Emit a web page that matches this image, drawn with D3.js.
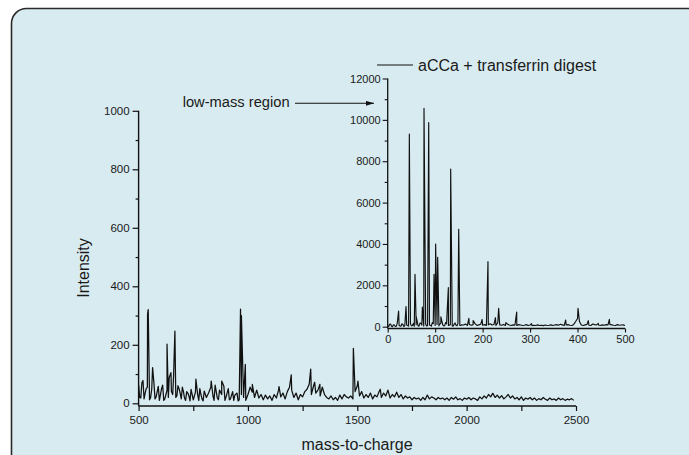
<!DOCTYPE html>
<html>
<head>
<meta charset="utf-8">
<script src="https://cdn.jsdelivr.net/npm/d3@7"></script>
<style>
  html, body { margin: 0; padding: 0; background: #ffffff; }
  svg { display: block; font-family: "Liberation Sans", Arial, Helvetica, sans-serif; }
</style>
</head>
<body>
<svg id="chart" width="689" height="455"></svg>
<script>
// ---------------- DATA ----------------
// Main spectrum: baseline sampled every 10 m/z from 500 to 2490
const mainStartMz = 500;
const mainStepMz = 10;
const mainBaseline = [
  62, 18, 78, 35, 55, 12, 48, 70, 22, 58,
  30, 62, 15, 45, 88, 40, 95, 20, 60, 35,
  55, 18, 40, 25, 48, 12, 38, 30, 50, 15,
  42, 20, 35, 55, 25, 62, 18, 45, 30, 58,
  22, 50, 15, 40, 28, 35, 12, 30, 20, 10,
  30, 55, 38, 20, 45, 18, 30, 12, 28, 15,
  25, 10, 30, 18, 45, 22, 35, 15, 40, 55,
  45, 20, 35, 12, 30, 22, 40, 48, 65, 30,
  60, 35, 45, 25, 55, 30, 20, 15, 25, 12,
  20, 10, 28, 15, 30, 22, 18, 25, 15, 40,
  60, 25, 40, 18, 30, 20, 35, 15, 28, 22,
  40, 20, 35, 25, 45, 18, 30, 22, 38, 20,
  30, 15, 25, 18, 22, 12, 20, 15, 18, 10,
  20, 12, 28, 15, 22, 18, 12, 20, 15, 18,
  12, 18, 10, 20, 14, 22, 12, 16, 10, 18,
  14, 20, 12, 18, 15, 10, 22, 15, 25, 18,
  30, 22, 34, 20, 28, 18, 26, 15, 22, 30,
  18, 25, 15, 20, 12, 22, 10, 18, 14, 20,
  12, 18, 10, 16, 12, 20, 14, 10, 18, 12,
  15, 10, 18, 12, 16, 10, 14, 12, 16, 10
];
// Main spectrum peaks [m/z, intensity]
const mainPeaks = [
  [505, 20], [515, 70], [525, 15], [535, 50], [541, 305], [544, 320], [555, 20],
  [564, 122], [575, 15], [585, 40], [595, 10], [605, 50], [615, 10], [625, 30],
  [630, 202], [636, 20], [648, 105], [656, 30], [666, 247], [675, 25], [685, 50],
  [695, 15], [705, 40], [715, 10], [725, 35], [735, 8], [745, 30],
  [762, 83], [775, 10], [785, 30], [795, 8], [832, 76], [845, 10], [865, 12],
  [880, 76], [895, 10], [915, 12], [935, 10], [955, 8],
  [966, 322], [970, 300], [988, 133], [1020, 65], [1142, 57], [1198, 97],
  [1287, 117], [1305, 72], [1329, 65], [1482, 188], [1503, 76], [1605, 48], [2119, 34]
];

// Inset (low-mass region): baseline sampled every 4 m/z from 0 to 500
const insetStartMz = 0;
const insetStepMz = 4;
const insetBaseline = [
  40, 120, 20, 90, 10, 150, 60, 30, 110, 50,
  80, 30, 140, 60, 20, 100, 40, 170, 70, 30,
  120, 50, 90, 30, 150, 60, 110, 40, 180, 90,
  50, 130, 60, 100, 40, 120, 70, 150, 60, 90,
  80, 130, 60, 110, 70, 100, 150, 60, 90, 120,
  70, 100, 60, 90, 140, 80, 110, 60, 200, 90,
  70, 110, 60, 130, 80, 60, 90, 70, 60, 100,
  80, 60, 70, 100, 60, 80, 50, 70, 60, 90,
  60, 70, 50, 80, 60, 70, 90, 60, 80, 100,
  70, 120, 90, 60, 80, 100, 70, 60, 110, 250,
  400, 250, 80, 60, 90, 110, 70, 60, 130, 100,
  90, 80, 60, 90, 70, 100, 80, 110, 90, 70,
  60, 100, 70, 80, 90, 60
];
const insetPeaks = [
  [2, 10], [6, 130], [10, 0], [14, 80], [18, 20], [23, 760], [26, 40], [30, 140],
  [34, 10], [38.6, 970], [42, 60], [45.6, 9318], [50, 40], [54, 160],
  [57.5, 2533], [60, 500], [66, 30], [70, 180], [73, 950], [76.5, 10560],
  [82, 40], [86.4, 9865], [90, 60], [94, 200], [97.6, 2533], [101, 4000],
  [105.3, 3355], [108, 60], [112, 480], [118, 40], [122, 200], [127.8, 1886],
  [132.7, 7625], [138, 30], [142, 180], [146, 50], [149.6, 4710], [154, 60],
  [171, 405], [180, 300], [199, 350], [211.3, 3143], [227, 435], [233.8, 890], [249, 200],
  [271.8, 710], [303, 150], [375, 325], [401, 890], [422.7, 290], [443.8, 160],
  [467, 358]
];

// Tick labels / values
const mainXTicks = [500, 1000, 1500, 2000, 2500];
const mainXMinor = [750, 1250, 1750, 2250];
const mainYTicks = [0, 200, 400, 600, 800, 1000];
const mainYMinor = [100, 300, 500, 700, 900];
const insetXTicks = [0, 100, 200, 300, 400, 500];
const insetYTicks = [0, 2000, 4000, 6000, 8000, 10000, 12000];
const insetYMinor = [1000, 3000, 5000, 7000, 9000, 11000];

const xTitle = "mass-to-charge";
const yTitle = "Intensity";
const legendLabel = "aCCa + transferrin digest";
const annotationLabel = "low-mass region";

// ---------------- BUILD SERIES ----------------
function buildSeries(start, step, base, peaks) {
  const pts = base.map((v, i) => [start + i * step, v]);
  peaks.forEach(p => pts.push([p[0], p[1]]));
  pts.sort((a, b) => a[0] - b[0]);
  return pts;
}
const mainData = buildSeries(mainStartMz, mainStepMz, mainBaseline, mainPeaks);
const insetData = buildSeries(insetStartMz, insetStepMz, insetBaseline, insetPeaks);

// ---------------- DRAW ----------------
const svg = d3.select("#chart");
const ink = "#111";
const labelColor = "#1a1a1a";
const fontStack = '"Liberation Sans", Arial, sans-serif';

// Panel
svg.append("rect")
  .attr("x", 11.5).attr("y", 8.5)
  .attr("width", 720).attr("height", 480)
  .attr("rx", 15).attr("ry", 15)
  .attr("fill", "#d8ebf0")
  .attr("stroke", "#2a2a2a")
  .attr("stroke-width", 1.6);

// ---- Main chart ----
const x = d3.scaleLinear().domain([500, 2500]).range([138.6, 576]);
const y = d3.scaleLinear().domain([0, 1000]).range([403.3, 110.8]);
const mainAxisY = 406;

const gMain = svg.append("g");

const yAxis = gMain.append("g").attr("transform", "translate(138.6,0)")
  .call(d3.axisLeft(y).tickValues(mainYTicks).tickSize(6).tickPadding(3).tickFormat(d3.format("d")));
const yAxisMinor = gMain.append("g").attr("transform", "translate(138.6,0)")
  .call(d3.axisLeft(y).tickValues(mainYMinor).tickSize(3).tickFormat(""));
const xAxis = gMain.append("g").attr("transform", `translate(0,${mainAxisY})`)
  .call(d3.axisBottom(x).tickValues(mainXTicks).tickSize(5).tickPadding(5).tickFormat(d3.format("d")));
const xAxisMinor = gMain.append("g").attr("transform", `translate(0,${mainAxisY})`)
  .call(d3.axisBottom(x).tickValues(mainXMinor).tickSize(5).tickFormat(""));

[yAxis, yAxisMinor, xAxis, xAxisMinor].forEach(a => {
  a.select(".domain").remove();
  a.selectAll("line").attr("stroke", ink).attr("stroke-width", 1.2);
  a.selectAll("text").attr("fill", labelColor).style("font-size", "11.5px")
    .style("font-family", fontStack);
});
gMain.append("line").attr("x1", x(500)).attr("x2", x(500)).attr("y1", y(1000)).attr("y2", mainAxisY)
  .attr("stroke", ink).attr("stroke-width", 1.4);
gMain.append("line").attr("x1", x(500)).attr("x2", x(2500)).attr("y1", mainAxisY).attr("y2", mainAxisY)
  .attr("stroke", ink).attr("stroke-width", 1.4);

gMain.append("path").datum(mainData)
  .attr("fill", "none").attr("stroke", ink).attr("stroke-width", 1.25)
  .attr("stroke-linejoin", "round")
  .attr("d", d3.line().x(d => x(d[0])).y(d => y(d[1])));

// Titles
svg.append("text").attr("transform", "translate(83.5,268) rotate(-90)")
  .attr("text-anchor", "middle").attr("dy", "0.35em")
  .attr("fill", labelColor).style("font-size", "16px").text(yTitle);
svg.append("text").attr("x", 357).attr("y", 450)
  .attr("text-anchor", "middle")
  .attr("fill", labelColor).style("font-size", "16px").text(xTitle);

// ---- Inset ----
const xi = d3.scaleLinear().domain([0, 500]).range([387.7, 625]);
const yi = d3.scaleLinear().domain([0, 12000]).range([326.7, 78.5]);
const insetAxisY = 328.5;
const gIn = svg.append("g");

const yiAxis = gIn.append("g").attr("transform", "translate(387.7,0)")
  .call(d3.axisLeft(yi).tickValues(insetYTicks).tickSize(5).tickPadding(2).tickFormat(d3.format("d")));
const yiAxisMinor = gIn.append("g").attr("transform", "translate(387.7,0)")
  .call(d3.axisLeft(yi).tickValues(insetYMinor).tickSize(3).tickFormat(""));
const xiAxis = gIn.append("g").attr("transform", `translate(0,${insetAxisY})`)
  .call(d3.axisBottom(xi).tickValues(insetXTicks).tickSize(4).tickPadding(3).tickFormat(d3.format("d")));
[yiAxis, yiAxisMinor, xiAxis].forEach(a => {
  a.select(".domain").remove();
  a.selectAll("line").attr("stroke", ink).attr("stroke-width", 1.1);
  a.selectAll("text").attr("fill", labelColor).style("font-size", "11px")
    .style("font-family", fontStack);
});
gIn.append("line").attr("x1", xi(0)).attr("x2", xi(0)).attr("y1", yi(12000)).attr("y2", insetAxisY)
  .attr("stroke", ink).attr("stroke-width", 1.3);
gIn.append("line").attr("x1", xi(0)).attr("x2", xi(500)).attr("y1", insetAxisY).attr("y2", insetAxisY)
  .attr("stroke", ink).attr("stroke-width", 1.3);

gIn.append("path").datum(insetData)
  .attr("fill", "none").attr("stroke", ink).attr("stroke-width", 1.15)
  .attr("stroke-linejoin", "round")
  .attr("d", d3.line().x(d => xi(d[0])).y(d => yi(d[1])));

// Legend
svg.append("line").attr("x1", 377).attr("x2", 413).attr("y1", 65).attr("y2", 65)
  .attr("stroke", ink).attr("stroke-width", 1.1);
svg.append("text").attr("x", 418).attr("y", 70.5)
  .attr("fill", labelColor).style("font-size", "16px").text(legendLabel);

// Annotation with arrow
svg.append("defs").append("marker")
  .attr("id", "arrow").attr("viewBox", "0 0 10 6").attr("refX", 10).attr("refY", 3)
  .attr("markerWidth", 8).attr("markerHeight", 5).attr("markerUnits", "userSpaceOnUse")
  .attr("orient", "auto")
  .append("path").attr("d", "M0,0 L10,3 L0,6 Z").attr("fill", ink);
svg.append("text").attr("x", 182.7).attr("y", 107)
  .attr("fill", labelColor).style("font-size", "14.7px").text(annotationLabel);
svg.append("line").attr("x1", 295).attr("x2", 374).attr("y1", 103.3).attr("y2", 103.3)
  .attr("stroke", ink).attr("stroke-width", 1.1).attr("marker-end", "url(#arrow)");
</script>
</body>
</html>
